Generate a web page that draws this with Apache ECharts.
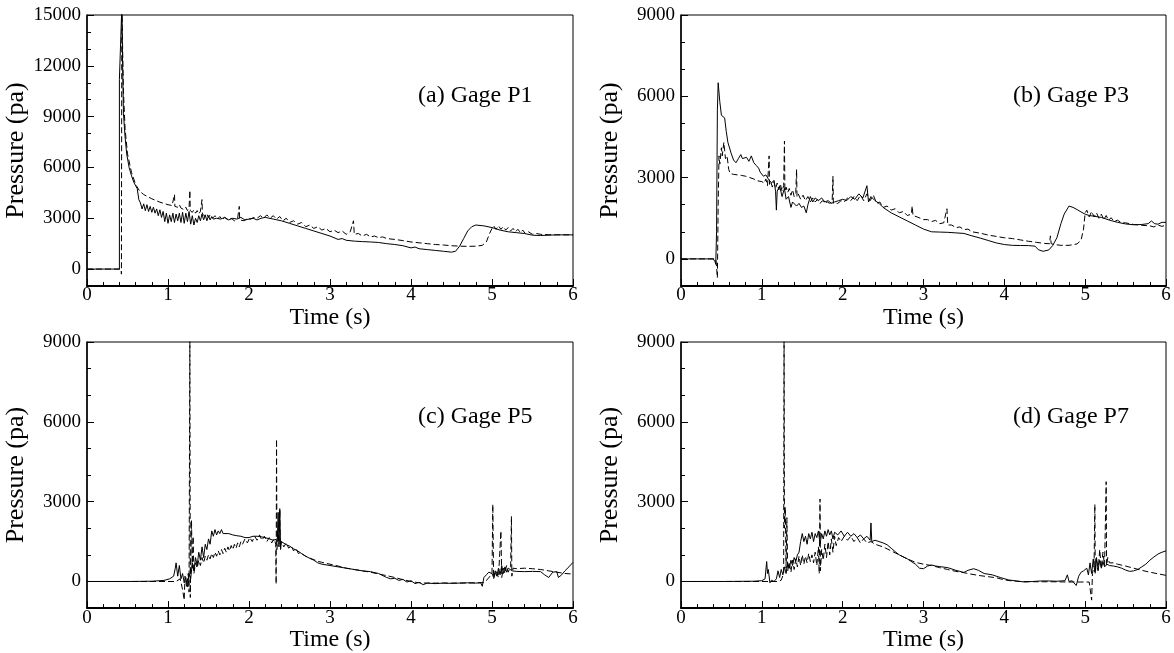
<!DOCTYPE html>
<html>
<head>
<meta charset="utf-8">
<script src="https://cdn.jsdelivr.net/npm/echarts@6/dist/echarts.min.js"></script>
<style>
html,body{margin:0;padding:0;background:#fff;}
#c{width:1174px;height:653px;}
</style>
</head>
<body>
<div id="c"></div>
<script>
// ---------- data (time s, pressure pa) ----------
const panelLabels = ["(a) Gage P1", "(b) Gage P3", "(c) Gage P5", "(d) Gage P7"];
const xTicks = [0, 1, 2, 3, 4, 5, 6];
const yTicksA = [0, 3000, 6000, 9000, 12000, 15000];
const yTicksB = [0, 3000, 6000, 9000];
const yMaxes = [15000, 9000, 9000, 9000];
const yMin = -1000;

const p1Solid = [[0,0],[0.4,0],[0.4,11200],[0.42,11200],[0.43,15500],[0.44,12000],[0.45,9200],[0.47,7800],[0.49,6800],[0.52,6000],[0.55,5500],[0.58,5100],[0.62,4750],[0.64,4100],[0.66,3900],
[0.68,3550],[0.70,3850],[0.72,3450],[0.74,3800],[0.76,3400],[0.78,3700],[0.80,3350],[0.82,3650],[0.84,3300],[0.86,3550],[0.88,3150],[0.90,3500],[0.92,3050],[0.94,3400],[0.96,2800],[0.98,3300],[1.00,2700],[1.02,3200],[1.04,2800],[1.06,3300],[1.08,2750],[1.10,3250],[1.12,2850],[1.14,3300],[1.16,2750],[1.18,3350],[1.20,2700],[1.22,3300],[1.24,2800],[1.26,3400],[1.28,2650],[1.30,3150],[1.32,2600],[1.34,3000],[1.36,2750],[1.38,3150],[1.40,2850],[1.42,3250],[1.44,2900],[1.46,3200],[1.48,2850],[1.50,3150],[1.52,2900],[1.54,3100],[1.56,2950],[1.60,3000],[1.65,2950],[1.70,3050],[1.75,2900],[1.80,3000],[1.85,2950],[1.90,3050],[1.95,2900],[2.00,2950],[2.05,3000],[2.10,2900],[2.15,3000],[2.20,3050],[2.30,2950],[2.40,2850],[2.50,2700],[2.60,2550],[2.70,2400],[2.80,2250],[2.90,2100],[3.00,1950],[3.10,1750],[3.15,1800],[3.20,1700],[3.30,1650],[3.40,1620],[3.50,1600],[3.60,1570],[3.70,1500],[3.80,1450],[3.90,1380],[4.00,1250],[4.05,1300],[4.10,1200],[4.20,1150],[4.30,1100],[4.40,1050],[4.50,1000],[4.55,1050],[4.60,1350],[4.65,1800],[4.70,2250],[4.75,2500],[4.80,2600],[4.90,2550],[5.00,2450],[5.10,2300],[5.20,2200],[5.30,2150],[5.40,2100],[5.50,2000],[5.60,1980],[5.80,2020],[6.00,2020]];

const p1Dashed = [[0,0],[0.42,0],[0.425,-300],[0.43,16000],[0.44,13000],[0.45,10500],[0.47,8300],[0.50,6800],[0.55,5700],[0.60,5000],[0.65,4600],[0.70,4400],[0.80,4150],[0.90,3950],[1.00,3800],[1.05,3750],
[1.07,3850],[1.08,4400],[1.085,3700],[1.10,3800],[1.12,3650],[1.14,3800],[1.16,3600],[1.18,3700],[1.20,3500],[1.22,3650],[1.24,3450],[1.26,3600],[1.27,4650],[1.275,3450],[1.28,3550],[1.30,3350],[1.32,3500],[1.34,3300],[1.36,3450],[1.38,3250],[1.40,3400],[1.42,4100],[1.425,3250],[1.44,3250],[1.46,3100],[1.48,3250],[1.50,3050],[1.52,3200],[1.55,3000],[1.58,3150],[1.61,2950],[1.64,3100],[1.67,2900],[1.70,3050],[1.74,2900],[1.78,3000],[1.82,2850],[1.86,3000],[1.88,3700],[1.885,2900],[1.90,2950],[1.94,2850],[1.98,3000],[2.02,2950],[2.06,3050],[2.10,3000],[2.14,3150],[2.18,3000],[2.22,3200],[2.26,3000],[2.30,3150],[2.34,2950],[2.38,3100],[2.42,2850],[2.46,3000],[2.50,2750],[2.55,2850],[2.60,2650],[2.65,2750],[2.70,2500],[2.75,2600],[2.80,2400],[2.85,2500],[2.90,2300],[2.95,2400],[3.00,2200],[3.05,2300],[3.10,2150],[3.15,2250],[3.20,2050],[3.25,2200],[3.29,2850],[3.30,2050],[3.35,2100],[3.40,1950],[3.45,2050],[3.50,1900],[3.55,1950],[3.60,1850],[3.65,1900],[3.70,1800],[3.80,1750],[3.90,1680],[4.00,1600],[4.10,1550],[4.20,1500],[4.30,1450],[4.40,1420],[4.50,1380],[4.60,1350],[4.70,1340],[4.80,1350],[4.88,1400],[4.93,1600],[4.97,2100],[5.00,2400],[5.02,2550],[5.05,2350],[5.08,2550],[5.11,2350],[5.14,2500],[5.17,2300],[5.20,2450],[5.23,2250],[5.26,2400],[5.29,2200],[5.32,2350],[5.35,2150],[5.38,2300],[5.41,2100],[5.45,2200],[5.50,2050],[5.55,2100],[5.60,2050],[5.70,2030],[5.80,2020],[6.00,2020]];

const p3Solid = [[0,0],[0.40,0],[0.42,-100],[0.43,-200],[0.44,1000],[0.45,5500],[0.46,6500],[0.48,5800],[0.50,5300],[0.52,5350],[0.54,5200],[0.56,4700],[0.58,4300],[0.62,3900],[0.65,3650],[0.68,3550],[0.71,3700],[0.74,3850],[0.76,3700],[0.78,3650],[0.81,3750],[0.84,3600],[0.87,3800],[0.90,3550],[0.93,3450],[0.96,3350],[0.98,3200],[1.00,3250],[1.02,3050],[1.05,3100],[1.08,2950],[1.10,3000],[1.12,2800],[1.15,2900],[1.17,2500],[1.18,1800],[1.19,2500],[1.22,2700],[1.25,2300],[1.28,2600],[1.30,2200],[1.33,2300],[1.36,1900],[1.38,2100],[1.40,2050],[1.43,1950],[1.46,2050],[1.49,1900],[1.52,1950],[1.55,1700],[1.57,2000],[1.60,2300],[1.63,2100],[1.66,2250],[1.70,2150],[1.74,2250],[1.78,2100],[1.82,2150],[1.86,2050],[1.90,2100],[1.95,2150],[2.00,2200],[2.05,2150],[2.10,2300],[2.15,2200],[2.20,2400],[2.25,2250],[2.30,2700],[2.32,2100],[2.35,2300],[2.40,2150],[2.45,2050],[2.50,1900],[2.60,1700],[2.70,1550],[2.80,1400],[2.90,1250],[3.00,1100],[3.10,1000],[3.20,990],[3.30,980],[3.40,960],[3.50,940],[3.60,850],[3.70,770],[3.80,680],[3.90,590],[4.00,530],[4.10,500],[4.20,495],[4.30,490],[4.38,470],[4.42,340],[4.48,280],[4.55,330],[4.60,500],[4.65,780],[4.70,1300],[4.74,1650],[4.80,1950],[4.85,1900],[4.90,1820],[4.95,1730],[5.00,1650],[5.05,1600],[5.10,1580],[5.20,1530],[5.30,1430],[5.40,1350],[5.50,1290],[5.60,1260],[5.70,1270],[5.78,1300],[5.82,1400],[5.86,1300],[5.90,1280],[5.95,1350],[6.00,1350]];

const p3Dashed = [[0,0],[0.43,0],[0.44,-300],[0.45,-700],[0.46,2000],[0.47,3800],[0.48,3500],[0.50,4100],[0.51,3800],[0.53,4300],[0.55,3700],[0.57,3800],[0.59,3300],[0.61,3150],[0.65,3120],[0.70,3100],[0.75,3080],[0.80,3050],[0.85,3000],[0.90,2950],[0.95,2880],[1.00,2850],[1.03,2800],
[1.05,2950],[1.07,2700],[1.09,3800],[1.095,2750],[1.11,2850],[1.13,2650],[1.15,2850],[1.17,2600],[1.19,2800],[1.21,2550],[1.23,2750],[1.25,2500],[1.27,2700],[1.28,4350],[1.285,2500],[1.30,2650],[1.32,2450],[1.34,2600],[1.36,2350],[1.38,2550],[1.40,2300],[1.42,2450],[1.43,3300],[1.435,2300],[1.45,2400],[1.48,2200],[1.51,2350],[1.54,2150],[1.57,2300],[1.60,2100],[1.63,2250],[1.66,2100],[1.69,2200],[1.72,2050],[1.75,2150],[1.78,2050],[1.81,2100],[1.84,2050],[1.87,2100],[1.88,3050],[1.885,2050],[1.90,2100],[1.94,2050],[1.98,2150],[2.02,2100],[2.06,2250],[2.10,2150],[2.14,2300],[2.18,2150],[2.22,2350],[2.26,2150],[2.30,2400],[2.34,2150],[2.38,2350],[2.42,2050],[2.46,2100],[2.50,1900],[2.55,1950],[2.60,1800],[2.65,1850],[2.70,1700],[2.75,1750],[2.80,1600],[2.85,1650],[2.86,1950],[2.87,1600],[2.92,1550],[2.96,1500],[3.00,1450],[3.05,1450],[3.10,1380],[3.15,1420],[3.20,1300],[3.25,1330],[3.29,1850],[3.30,1250],[3.35,1250],[3.40,1150],[3.45,1180],[3.50,1080],[3.55,1100],[3.60,1000],[3.70,950],[3.80,880],[3.90,830],[4.00,780],[4.10,750],[4.20,700],[4.30,650],[4.40,610],[4.50,570],[4.56,560],[4.57,850],[4.58,560],[4.62,530],[4.70,500],[4.80,500],[4.90,550],[4.95,700],[4.98,1100],[5.00,1700],[5.02,1800],[5.05,1550],[5.08,1750],[5.11,1550],[5.14,1700],[5.17,1500],[5.20,1650],[5.23,1450],[5.26,1600],[5.29,1420],[5.32,1520],[5.36,1380],[5.40,1430],[5.45,1330],[5.50,1330],[5.60,1270],[5.70,1240],[5.80,1220],[5.85,1180],[5.90,1250],[5.95,1200],[6.00,1250]];

const p5Solid = [[0,0],[0.5,0],[0.8,10],[0.95,40],[1.02,100],[1.07,200],[1.09,500],[1.10,700],[1.12,200],[1.14,600],[1.16,100],[1.18,300],[1.20,-50],[1.22,150],[1.24,-200],[1.26,300],[1.28,100],[1.30,700],[1.32,400],[1.34,900],[1.36,600],[1.38,1100],[1.40,800],[1.42,1300],[1.44,900],[1.46,1400],[1.48,1200],[1.50,1600],[1.52,1400],[1.54,1900],[1.56,1700],[1.58,1950],[1.60,1750],[1.62,1900],[1.64,1800],[1.66,1950],[1.68,1800],[1.70,1850],[1.75,1800],[1.80,1750],[1.85,1720],[1.90,1700],[1.95,1650],[2.00,1650],[2.05,1700],[2.10,1700],[2.15,1680],[2.20,1650],[2.25,1600],[2.30,1550],[2.35,1600],[2.36,2600],[2.37,1400],[2.38,2700],[2.39,1200],[2.40,1500],[2.45,1400],[2.50,1330],[2.55,1230],[2.60,1150],[2.65,1050],[2.70,950],[2.75,870],[2.80,800],[2.85,700],[2.90,650],[3.00,600],[3.10,550],[3.20,500],[3.30,450],[3.40,400],[3.50,370],[3.60,300],[3.70,150],[3.75,100],[3.80,120],[3.85,40],[3.90,80],[3.95,-20],[4.00,30],[4.05,-80],[4.10,-30],[4.15,-120],[4.20,-60],[4.30,-80],[4.40,-60],[4.50,-70],[4.60,-60],[4.70,-50],[4.80,-60],[4.86,-50],[4.88,-180],[4.90,150],[4.93,250],[4.96,350],[5.00,300],[5.02,150],[5.04,400],[5.06,200],[5.08,500],[5.10,250],[5.12,600],[5.14,300],[5.16,550],[5.18,350],[5.20,500],[5.25,400],[5.30,380],[5.40,370],[5.50,380],[5.60,370],[5.65,250],[5.70,150],[5.75,350],[5.80,370],[5.82,150],[5.86,250],[5.90,400],[5.95,550],[6.00,720]];

const p5Dashed = [[0,0],[1.10,0],[1.15,100],[1.18,-300],[1.20,-700],[1.21,200],[1.23,-200],[1.25,300],[1.26,-400],[1.27,9500],[1.275,-600],[1.28,600],[1.29,2300],[1.30,500],[1.31,1700],[1.32,300],[1.34,700],[1.36,500],[1.38,800],[1.40,600],[1.42,900],[1.44,700],[1.46,950],[1.48,800],[1.50,1000],[1.52,850],[1.54,1050],[1.56,900],[1.58,1100],[1.60,950],[1.62,1150],[1.64,1000],[1.66,1200],[1.68,1050],[1.70,1250],[1.72,1100],[1.74,1300],[1.76,1150],[1.78,1350],[1.80,1200],[1.82,1400],[1.84,1250],[1.86,1450],[1.88,1300],[1.90,1500],[1.92,1400],[1.95,1600],[1.98,1450],[2.01,1650],[2.04,1500],[2.07,1700],[2.10,1550],[2.13,1750],[2.16,1550],[2.19,1700],[2.22,1500],[2.25,1650],[2.28,1450],[2.31,1600],[2.33,1400],[2.335,-100],[2.34,5350],[2.345,1200],[2.36,1800],[2.37,1300],[2.38,2750],[2.385,1300],[2.40,1500],[2.43,1300],[2.46,1450],[2.49,1250],[2.52,1350],[2.55,1150],[2.58,1250],[2.61,1050],[2.64,1100],[2.67,1000],[2.70,950],[2.75,880],[2.80,820],[2.85,760],[2.90,720],[3.00,650],[3.10,580],[3.20,500],[3.30,450],[3.40,400],[3.50,350],[3.60,280],[3.70,220],[3.80,150],[3.90,70],[4.00,0],[4.10,-50],[4.20,-60],[4.40,-60],[4.60,-60],[4.80,-50],[4.90,-40],[4.95,100],[5.00,300],[5.01,2900],[5.02,100],[5.05,400],[5.08,150],[5.11,1900],[5.12,150],[5.14,500],[5.16,300],[5.18,600],[5.20,350],[5.23,550],[5.24,2450],[5.245,200],[5.26,500],[5.30,480],[5.40,500],[5.50,480],[5.60,450],[5.70,400],[5.80,350],[5.90,300],[6.00,280]];

const p7Solid = [[0,0],[0.5,0],[0.9,10],[1.00,30],[1.04,100],[1.06,750],[1.07,300],[1.08,450],[1.10,-50],[1.12,50],[1.15,0],[1.18,100],[1.20,400],[1.22,150],[1.24,450],[1.26,250],[1.28,550],[1.30,300],[1.32,700],[1.34,500],[1.36,800],[1.38,600],[1.40,900],[1.42,750],[1.44,1000],[1.46,1100],[1.48,1500],[1.50,1800],[1.52,1500],[1.54,1700],[1.56,1400],[1.58,1800],[1.60,1600],[1.62,1850],[1.64,1500],[1.66,1800],[1.68,1650],[1.70,1900],[1.72,1400],[1.74,1800],[1.76,1600],[1.78,1900],[1.80,1700],[1.82,1950],[1.84,1750],[1.86,1900],[1.88,1600],[1.90,1850],[1.94,1750],[1.98,1900],[2.02,1700],[2.06,1850],[2.10,1700],[2.14,1800],[2.18,1650],[2.22,1750],[2.26,1600],[2.30,1700],[2.34,1550],[2.35,2200],[2.36,1500],[2.40,1550],[2.45,1500],[2.50,1450],[2.55,1380],[2.60,1250],[2.65,1120],[2.70,1000],[2.80,850],[2.90,650],[2.95,500],[3.00,480],[3.05,580],[3.10,620],[3.15,580],[3.20,560],[3.30,520],[3.40,420],[3.50,340],[3.55,420],[3.62,480],[3.68,420],[3.75,300],[3.85,250],[3.95,150],[4.05,60],[4.15,20],[4.25,-20],[4.35,0],[4.45,20],[4.55,20],[4.65,10],[4.75,30],[4.78,250],[4.80,0],[4.84,30],[4.86,-50],[4.89,-150],[4.92,200],[4.95,350],[4.98,400],[5.00,380],[5.02,500],[5.04,250],[5.06,700],[5.08,300],[5.10,850],[5.12,350],[5.14,900],[5.16,450],[5.18,800],[5.20,500],[5.22,750],[5.24,550],[5.27,650],[5.30,600],[5.35,580],[5.40,550],[5.45,500],[5.50,430],[5.55,380],[5.60,400],[5.65,450],[5.70,550],[5.75,650],[5.80,800],[5.85,920],[5.90,1030],[5.95,1100],[6.00,1150]];

const p7Dashed = [[0,0],[1.20,0],[1.24,50],[1.27,300],[1.275,9500],[1.28,2000],[1.29,2800],[1.30,500],[1.31,2400],[1.32,400],[1.34,700],[1.36,350],[1.38,800],[1.40,450],[1.42,850],[1.44,550],[1.46,950],[1.48,600],[1.50,1000],[1.52,650],[1.54,950],[1.56,700],[1.58,1050],[1.60,750],[1.62,1000],[1.64,700],[1.66,1100],[1.68,600],[1.70,1300],[1.71,300],[1.72,3100],[1.725,400],[1.74,1200],[1.76,800],[1.78,1400],[1.80,900],[1.82,1500],[1.84,1000],[1.86,1600],[1.88,1100],[1.90,1700],[1.92,1350],[1.95,1650],[1.98,1500],[2.02,1700],[2.06,1550],[2.10,1700],[2.14,1500],[2.18,1650],[2.22,1450],[2.26,1600],[2.30,1450],[2.35,1500],[2.40,1400],[2.45,1350],[2.50,1300],[2.60,1150],[2.70,1000],[2.80,850],[2.90,720],[3.00,650],[3.10,600],[3.20,520],[3.30,450],[3.40,380],[3.50,330],[3.60,270],[3.70,220],[3.80,180],[3.90,140],[4.00,60],[4.10,20],[4.20,0],[4.40,-10],[4.60,-10],[4.80,-20],[5.00,-20],[5.05,-20],[5.08,-700],[5.09,300],[5.11,600],[5.12,2900],[5.125,300],[5.14,800],[5.16,400],[5.18,1200],[5.20,500],[5.22,1100],[5.24,600],[5.26,3750],[5.265,600],[5.28,900],[5.30,700],[5.35,700],[5.40,650],[5.50,580],[5.60,500],[5.70,420],[5.80,350],[5.90,290],[6.00,230]];

const solidSets = [p1Solid, p3Solid, p5Solid, p7Solid];
const dashedSets = [p1Dashed, p3Dashed, p5Dashed, p7Dashed];

// ---------- layout ----------
const FONT = "'Liberation Serif', 'Times New Roman', serif";
const grids = [
  {left: 87, top: 15, width: 486, height: 271},
  {left: 681, top: 15, width: 485, height: 271},
  {left: 87, top: 342, width: 486, height: 269},
  {left: 681, top: 342, width: 485, height: 269}
];
const labelPos = [
  {left: 418, top: 84}, {left: 1013, top: 84},
  {left: 418, top: 405}, {left: 1013, top: 405}
];
const plain = v => String(v);

const xAxes = [], yAxes = [], series = [], titles = [];
grids.forEach((g, k) => {
  g.show = true; g.borderColor = '#000'; g.borderWidth = 1; g.containLabel = false;
  xAxes.push({
    type: 'value', gridIndex: k, min: xTicks[0], max: xTicks[xTicks.length - 1], interval: 1,
    axisLine: {show: true, onZero: false, lineStyle: {color: '#000', width: 2}},
    axisTick: {show: true, inside: true, length: 7, lineStyle: {color: '#000', width: 1}},
    minorTick: {show: true, splitNumber: 5, length: 4, lineStyle: {color: '#000', width: 1}},
    axisLabel: {color: '#000', fontFamily: FONT, fontSize: 19, margin: 0, formatter: plain},
    splitLine: {show: false},
    name: 'Time (s)', nameLocation: 'middle', nameGap: 12,
    nameTextStyle: {color: '#000', fontFamily: FONT, fontSize: 24}
  });
  const yt = k === 0 ? yTicksA : yTicksB;
  yAxes.push({
    type: 'value', gridIndex: k, position: 'left', min: yMin, max: yMaxes[k],
    axisLine: {show: true, onZero: false, lineStyle: {color: '#000', width: 1.5}},
    axisTick: {show: true, inside: true, length: 7, customValues: yt, lineStyle: {color: '#000', width: 1}},
    axisLabel: {customValues: yt, color: '#000', fontFamily: FONT, fontSize: 19, margin: 6, formatter: plain},
    splitLine: {show: false},
    name: 'Pressure (pa)', nameLocation: 'middle', nameGap: 58,
    nameTextStyle: {color: '#000', fontFamily: FONT, fontSize: 26}
  });
  yAxes.push({
    type: 'value', gridIndex: k, position: 'left', min: yMin, max: yMaxes[k], interval: 1000,
    axisLine: {show: false},
    axisTick: {show: true, inside: true, length: 4, lineStyle: {color: '#000', width: 1}},
    axisLabel: {show: false}, splitLine: {show: false}
  });
  series.push({
    type: 'line', xAxisIndex: k, yAxisIndex: 2 * k, data: solidSets[k],
    showSymbol: false, symbol: 'none', clip: true, animation: false, silent: true,
    lineStyle: {color: '#000', width: 1, type: 'solid'}
  });
  series.push({
    type: 'line', xAxisIndex: k, yAxisIndex: 2 * k, data: dashedSets[k],
    showSymbol: false, symbol: 'none', clip: true, animation: false, silent: true,
    lineStyle: {color: '#000', width: 1, type: [6, 3]}
  });
  titles.push({
    text: panelLabels[k], left: labelPos[k].left, top: labelPos[k].top, padding: 0,
    textStyle: {color: '#000', fontFamily: FONT, fontSize: 24, fontWeight: 'normal'}
  });
});

const chart = echarts.init(document.getElementById('c'), null, {renderer: 'canvas'});
chart.setOption({
  backgroundColor: '#fff',
  animation: false,
  title: titles,
  grid: grids,
  xAxis: xAxes,
  yAxis: yAxes,
  series: series
});
</script>
</body>
</html>
